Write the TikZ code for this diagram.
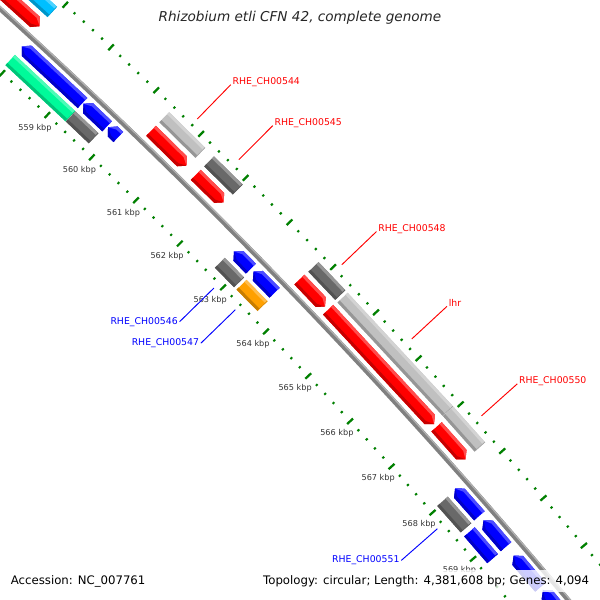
\documentclass[tikz,border=0pt]{standalone}
\usepackage{fontspec}
\setmainfont{DejaVu Sans}

\definecolor{cgred}{RGB}{255,0,0}
\definecolor{cgblue}{RGB}{0,0,255}
\definecolor{cglgray}{RGB}{192,192,192}
\definecolor{cgdgray}{RGB}{105,105,105}
\definecolor{cgcyan}{RGB}{0,191,255}
\definecolor{cggreen}{RGB}{0,250,154}
\definecolor{cgorange}{RGB}{255,160,0}
\definecolor{cgtick}{RGB}{0,128,0}
\definecolor{bbgray}{RGB}{128,128,128}

\tikzset{every picture/.style={line width=0.75pt}}
\tikzset{
  tickmaj/.style={draw=cgtick, line width=1.7pt},
  tickmin/.style={draw=cgtick, line width=1.5pt},
  kbplbl/.style={font=\fontsize{6.1}{7}\selectfont, text=black!80, inner sep=0pt},
  glbl/.style={font=\fontsize{7}{8}\selectfont, inner sep=1pt},
  leadred/.style={draw=cgred, line width=0.7pt},
  leadblue/.style={draw=cgblue, line width=0.7pt},
  legend/.style={font=\fontsize{8.8}{10}\selectfont, fill=white, fill opacity=0.8, text opacity=1, inner xsep=4pt, minimum height=16.5pt},
  ttl/.style={font=\fontsize{10.2}{12}\selectfont\itshape, text=black!85}
}

% angle of a position in kbp
\newcommand{\ka}[1]{-46.76+(#1-559)*0.592}
% box feature: start, end, inner radius, colour
\newcommand{\featbox}[4]{%
  \fill[#4] ({\ka{#1}}:{#3}) -- ({\ka{#1}}:{#3+14}) -- ({\ka{#2}}:{#3+14}) -- ({\ka{#2}}:{#3}) -- cycle;
  \fill[#4!70!white] ({\ka{#1}}:{#3+11}) -- ({\ka{#1}}:{#3+14}) -- ({\ka{#2}}:{#3+14}) -- ({\ka{#2}}:{#3+11}) -- cycle;
  \fill[#4!78!black] ({\ka{#1}}:{#3}) -- ({\ka{#1}}:{#3+3}) -- ({\ka{#2}}:{#3+3}) -- ({\ka{#2}}:{#3}) -- cycle;
  \draw[#4!85!black, line width=0.5pt] ({\ka{#2}}:{#3}) -- ({\ka{#2}}:{#3+14});}
% forward gene, tip at end
\newcommand{\fwdarrow}[4]{%
  \fill[#4] ({\ka{#1}}:{#3}) -- ({\ka{#1}}:{#3+14}) -- ({\ka{#2}-0.06}:{#3+14}) -- ({\ka{#2}}:{#3+7}) -- ({\ka{#2}-0.06}:{#3}) -- cycle;
  \fill[#4!70!white] ({\ka{#1}}:{#3+11}) -- ({\ka{#1}}:{#3+14}) -- ({\ka{#2}-0.06}:{#3+14}) -- ({\ka{#2}}:{#3+7}) -- ({\ka{#2}-0.075}:{#3+11}) -- cycle;
  \fill[#4!78!black] ({\ka{#1}}:{#3}) -- ({\ka{#1}}:{#3+3}) -- ({\ka{#2}-0.075}:{#3+3}) -- ({\ka{#2}}:{#3+7}) -- ({\ka{#2}-0.06}:{#3}) -- cycle;}
% reverse gene, tip at start
\newcommand{\revarrow}[4]{%
  \fill[#4] ({\ka{#1}}:{#3+7}) -- ({\ka{#1}+0.06}:{#3+14}) -- ({\ka{#2}}:{#3+14}) -- ({\ka{#2}}:{#3}) -- ({\ka{#1}+0.06}:{#3}) -- cycle;
  \fill[#4!70!white] ({\ka{#1}}:{#3+7}) -- ({\ka{#1}+0.06}:{#3+14}) -- ({\ka{#2}}:{#3+14}) -- ({\ka{#2}}:{#3+11}) -- ({\ka{#1}+0.075}:{#3+11}) -- cycle;
  \fill[#4!78!black] ({\ka{#1}}:{#3+7}) -- ({\ka{#1}+0.075}:{#3+3}) -- ({\ka{#2}}:{#3+3}) -- ({\ka{#2}}:{#3}) -- ({\ka{#1}+0.06}:{#3}) -- cycle;}

\begin{document}
\begin{tikzpicture}[x=0.75pt,y=0.75pt,yscale=-1,xscale=1]
\path[use as bounding box] (0,0) rectangle (600,600);
\clip (0,0) rectangle (600,600);
\fill[white] (0,0) rectangle (600,600);

\begin{scope}[shift={(-4032,4453)}]
%Ticks, outer and inner
\foreach \k in {557,...,571}{
  \draw[tickmaj] ({\ka{\k}}:6044) -- ({\ka{\k}}:6052);
  \draw[tickmaj] ({\ka{\k}}:5951) -- ({\ka{\k}}:5959);
}
\foreach \k in {557,...,570}{\foreach \m in {0.2,0.4,0.6,0.8}{
  \draw[tickmin] ({\ka{\k+\m}}:6046.8) -- ({\ka{\k+\m}}:6049.2);
  \draw[tickmin] ({\ka{\k+\m}}:5953.8) -- ({\ka{\k+\m}}:5956.2);
}}
% Text Node
\foreach \k in {559,...,569}
  \node[kbplbl] (t\k) at ({\ka{\k}}:5937) {\k\ kbp};

%Backbone
\draw[draw=bbgray, line width=3.6pt] ({\ka{557}}:6001) arc[start angle={\ka{557}}, end angle={\ka{571}}, radius=6001];
\draw[draw=black!30, line width=0.9pt] ({\ka{557}}:6002.6) arc[start angle={\ka{557}}, end angle={\ka{571}}, radius=6002.6];

%Shape: forward genes and their classes
\fwdarrow{556.5}{557.93}{6008}{cgred}
\featbox{556.5}{557.92}{6027}{cgcyan}
\fwdarrow{560.39}{561.19}{6008}{cgred}
\featbox{560.39}{561.20}{6027}{cglgray}
\fwdarrow{561.40}{562.03}{6008}{cgred}
\featbox{561.40}{562.04}{6027}{cgdgray}
\fwdarrow{563.77}{564.37}{6008}{cgred}
\featbox{563.78}{564.40}{6027}{cgdgray}
\fwdarrow{564.44}{566.95}{6008}{cgred}
\featbox{564.46}{566.94}{6027}{cglgray}
\fwdarrow{567.01}{567.71}{6008}{cgred}
\featbox{566.95}{567.71}{6027}{cglgray}
%Shape: reverse genes and their classes
\revarrow{557.94}{559.28}{5981}{cgblue}
\featbox{557.95}{559.28}{5963}{cggreen}
\revarrow{559.30}{559.83}{5981}{cgblue}
\featbox{559.29}{559.80}{5963}{cgdgray}
\revarrow{559.85}{560.08}{5981}{cgblue}
\revarrow{562.71}{563.10}{5981}{cgblue}
\featbox{562.68}{563.12}{5963}{cgdgray}
\revarrow{563.16}{563.645}{5981}{cgblue}
\featbox{563.18}{563.66}{5963}{cgorange}
\revarrow{567.95}{568.54}{5981}{cgblue}
\featbox{567.97}{568.54}{5963}{cgdgray}
\revarrow{568.64}{569.20}{5981}{cgblue}
\featbox{568.63}{569.20}{5963}{cgblue}
\revarrow{569.39}{570.06}{5981}{cgblue}
\revarrow{570.12}{571.00}{5981}{cgblue}

%Labels with leader lines
\coordinate (g544) at ({\ka{560.79}}:6056);
\node[glbl, text=cgred, anchor=base west] (l544) at ({\ka{560.79}}:6104) {RHE\_CH00544};
\draw[leadred] (g544) -- (l544.base west);
\coordinate (g545) at ({\ka{561.72}}:6056);
\node[glbl, text=cgred, anchor=base west] (l545) at ({\ka{561.72}}:6104) {RHE\_CH00545};
\draw[leadred] (g545) -- (l545.base west);
\coordinate (g548) at ({\ka{564.07}}:6056);
\node[glbl, text=cgred, anchor=base west] (l548) at ({\ka{564.07}}:6104) {RHE\_CH00548};
\draw[leadred] (g548) -- (l548.base west);
\coordinate (glhr) at ({\ka{565.70}}:6056);
\node[glbl, text=cgred, anchor=base west] (llhr) at ({\ka{565.70}}:6104) {lhr};
\draw[leadred] (glhr) -- (llhr.base west);
\coordinate (g550) at ({\ka{567.36}}:6056);
\node[glbl, text=cgred, anchor=base west] (l550) at ({\ka{567.36}}:6104) {RHE\_CH00550};
\draw[leadred] (g550) -- (l550.base west);
\coordinate (g546) at ({\ka{562.905}}:5948);
\node[glbl, text=cgblue, anchor=east] (l546) at ({\ka{562.905}}:5900) {RHE\_CH00546};
\draw[leadblue] (g546) -- (l546.east);
\coordinate (g547) at ({\ka{563.40}}:5948);
\node[glbl, text=cgblue, anchor=east] (l547) at ({\ka{563.40}}:5900) {RHE\_CH00547};
\draw[leadblue] (g547) -- (l547.east);
\coordinate (g551) at ({\ka{568.25}}:5948);
\node[glbl, text=cgblue, anchor=east] (l551) at ({\ka{568.25}}:5900) {RHE\_CH00551};
\draw[leadblue] (g551) -- (l551.east);
\end{scope}

% Text Node
\node[ttl] (title) at (300,18) {Rhizobium etli CFN 42, complete genome};
% Text Node
\node[legend, anchor=west] (acc) at (5,581) {Accession: NC\_007761};
% Text Node
\node[legend, anchor=east] (topo) at (595,581) {Topology: circular; Length: 4,381,608 bp; Genes: 4,094};
\end{tikzpicture}
\end{document}
